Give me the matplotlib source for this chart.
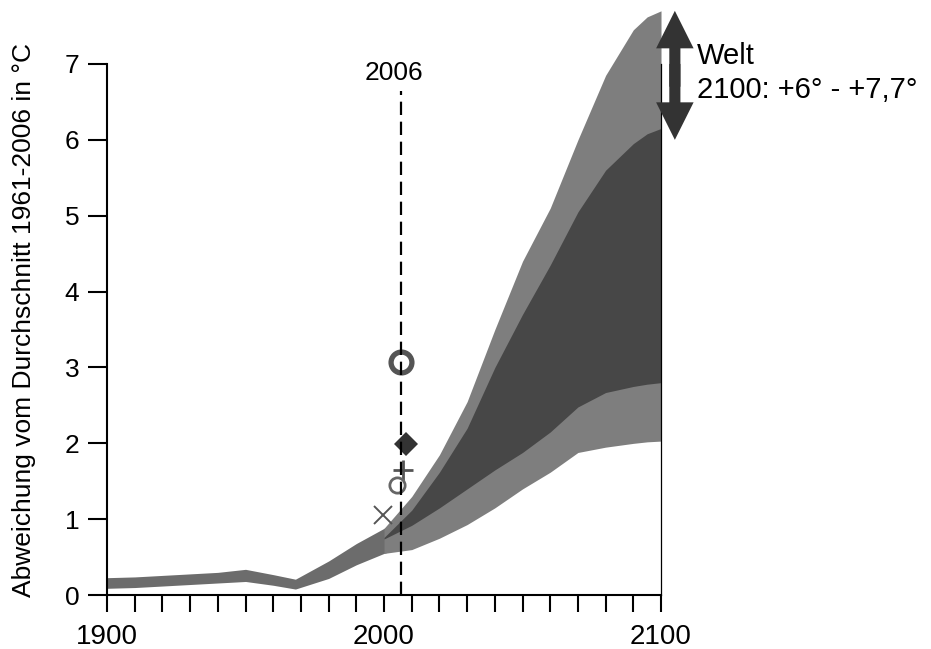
import numpy as np
import matplotlib.pyplot as plt
from matplotlib.ticker import MultipleLocator, FixedLocator

plt.rcParams['font.family'] = ['Liberation Sans', 'DejaVu Sans']

# observed band 1900-2006
hist_years = [1900, 1910, 1920, 1930, 1940, 1950, 1960, 1968, 1980, 1990, 2000, 2006]
hist_low = [0.09, 0.10, 0.12, 0.14, 0.16, 0.18, 0.13, 0.08, 0.22, 0.40, 0.55, 0.62]
hist_high = [0.23, 0.24, 0.26, 0.28, 0.30, 0.34, 0.27, 0.21, 0.45, 0.68, 0.88, 1.00]

# projection bands 2000-2100
proj_years = [2000, 2010, 2020, 2030, 2040, 2050, 2060, 2070, 2080, 2090, 2095, 2100]
outer_top = [0.88, 1.30, 1.85, 2.55, 3.50, 4.40, 5.10, 6.00, 6.85, 7.45, 7.62, 7.70]
inner_top = [0.76, 1.12, 1.62, 2.20, 3.00, 3.70, 4.35, 5.05, 5.60, 5.95, 6.08, 6.15]
inner_bottom = [0.74, 0.92, 1.15, 1.40, 1.65, 1.88, 2.15, 2.48, 2.67, 2.75, 2.78, 2.80]
outer_bottom = [0.55, 0.60, 0.75, 0.93, 1.15, 1.40, 1.62, 1.88, 1.95, 2.00, 2.02, 2.03]

# single values at 2006
marker_x = [2006, 2008, 2007, 2004.7, 1999.6]
marker_y = [3.07, 1.99, 1.65, 1.45, 1.05]
marker_kind = ['o', 'D', '+', 'o', 'x']

year_mark = 2006
world_range = [6.0, 7.7]

fig = plt.figure(figsize=(9.31, 6.49), dpi=100)
ax = fig.add_axes([0.115, 0.083, 0.595, 0.912])

ax.fill_between(hist_years, hist_low, hist_high, color='#6c6c6c', lw=0)
ax.fill_between(proj_years, outer_bottom, outer_top, color='#7e7e7e', lw=0)
ax.fill_between(proj_years, inner_bottom, inner_top, color='#474747', lw=0)

styles = {
    0: dict(ms=15, mew=3.8, mfc='none', mec='#555555'),
    1: dict(ms=12, mew=0, mfc='#333333'),
    2: dict(ms=14, mew=2.0, mec='#555555'),
    3: dict(ms=11, mew=2.0, mfc='none', mec='#666666'),
    4: dict(ms=13, mew=1.4, mec='#555555'),
}
for i, (x, y, m) in enumerate(zip(marker_x, marker_y, marker_kind)):
    ax.plot(x, y, marker=m, ls='none', zorder=3, **styles[i])

ax.plot([year_mark, year_mark], [0, 6.65], color='black', lw=1.6,
        dashes=(6, 3), zorder=4)
ax.text(year_mark - 2.5, 6.72, str(year_mark), ha='center', va='bottom', fontsize=19)

# double arrow for world range
mid = sum(world_range) / 2
for end in world_range:
    start = mid - 0.15 if end > mid else mid + 0.15
    ax.annotate('', xy=(2105, end), xytext=(2105, start), annotation_clip=False,
                arrowprops=dict(arrowstyle='simple,head_width=27,head_length=27,tail_width=8',
                                mutation_scale=1, color='#333333', lw=0,
                                shrinkA=0, shrinkB=0))
ax.text(2113, 7.11, 'Welt', fontsize=21, va='center', ha='left')
ax.text(2113, 6.66, '2100: +6° - +7,7°', fontsize=21, va='center', ha='left')

ax.set_xlim(1900, 2100)
ax.set_ylim(0, 7.8)
ax.spines['top'].set_visible(False)
ax.spines['left'].set_bounds(0, 7)
ax.spines['right'].set_bounds(0, 7)
ax.spines['left'].set_linewidth(1.5)
ax.spines['bottom'].set_linewidth(1.5)
ax.spines['right'].set_linewidth(0.9)

ax.xaxis.set_major_locator(FixedLocator([1900, 2000, 2100]))
ax.xaxis.set_minor_locator(MultipleLocator(10))
ax.set_yticks(range(0, 8))
ax.tick_params(axis='x', which='both', direction='out', length=12, width=1.5,
               labelsize=20, pad=9)
ax.tick_params(axis='y', direction='out', length=14, width=1.5, labelsize=19, pad=6)
ax.set_ylabel('Abweichung vom Durchschnitt 1961-2006 in °C', fontsize=19)
ax.yaxis.set_label_coords(-0.128, 0.465)

fig.savefig('out.png', dpi=100)
